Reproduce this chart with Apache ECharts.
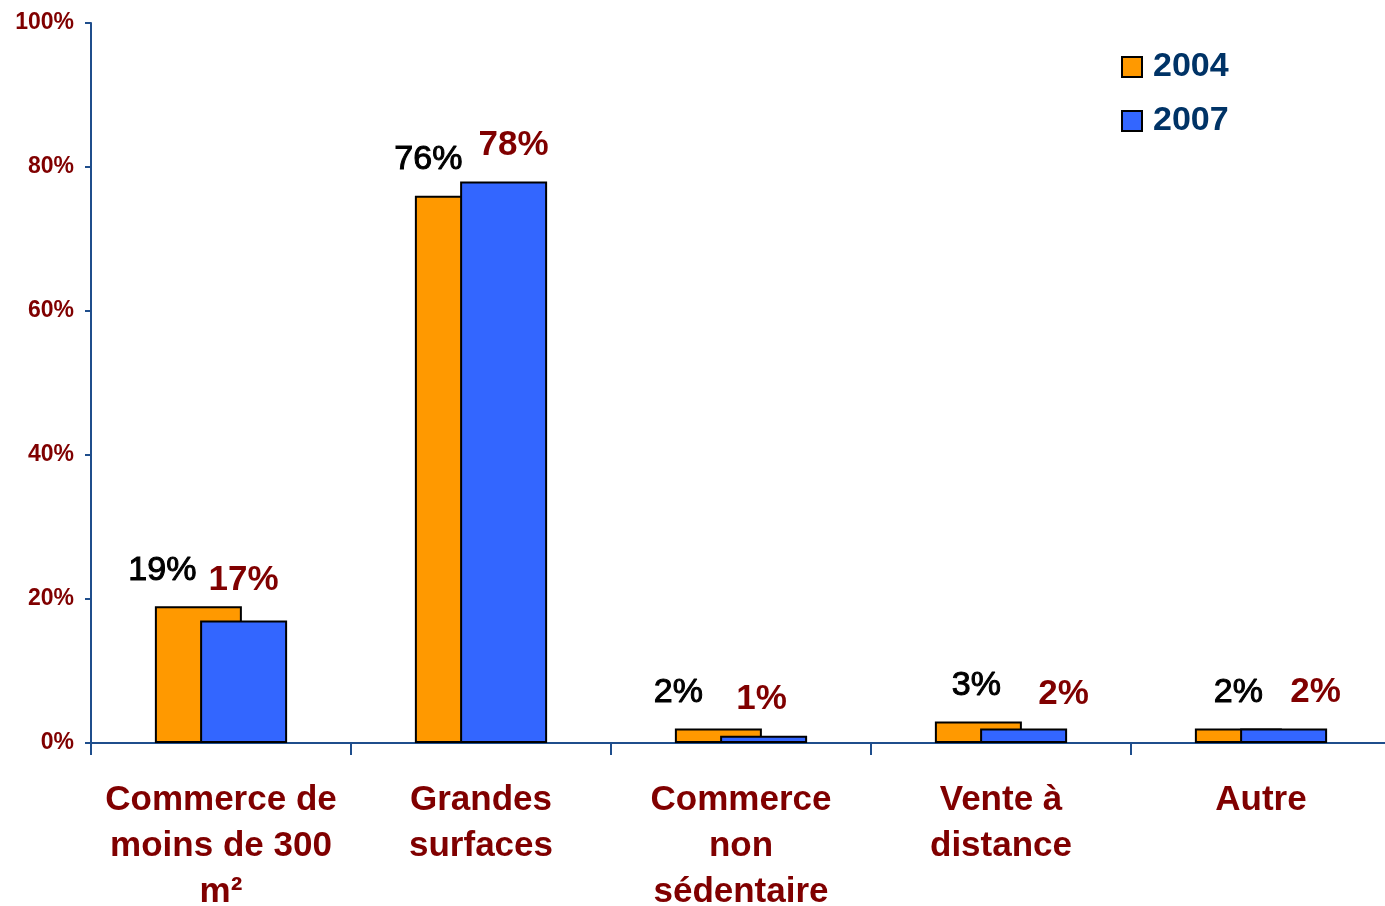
<!DOCTYPE html>
<html>
<head>
<meta charset="utf-8">
<script src="https://cdn.jsdelivr.net/npm/echarts@6/dist/echarts.min.js"></script>
<style>html,body{margin:0;padding:0;background:#fff}#c{width:1385px;height:906px}</style>
</head>
<body>
<div id="c"></div>
<script>
const categories = ['Commerce de\nmoins de 300\nm²', 'Grandes\nsurfaces', 'Commerce\nnon\nsédentaire', 'Vente à\ndistance', 'Autre'];
const seriesNames = ['2004', '2007'];
const values2004 = [19, 76, 2, 3, 2];
const values2007 = [17, 78, 1, 2, 2];
const yTicks = [0, 20, 40, 60, 80, 100];

// label placement tweaks (styling only)
const offs2004 = [[-36, 0], [-30, 0], [-40, 0], [-2, 0], [0, 0]];
const offs2007 = [[0, -4], [10, 0], [-2, 0], [40, 2], [32, 0]];

const chart = echarts.init(document.getElementById('c'));
const axisColor = '#1F4E8C';
const darkRed = '#800000';

function mkData(vals, offs) {
  return vals.map((v, i) => ({ value: v, label: { offset: offs[i] } }));
}

chart.setOption({
  animation: false,
  grid: { left: 91, top: 23, width: 1300, height: 720, containLabel: false, outerBoundsMode: 'none' },
  legend: {
    orient: 'vertical',
    left: 1121,
    top: 50,
    padding: 0,
    itemWidth: 20,
    itemHeight: 20,
    itemGap: 20,
    icon: 'rect',
    data: seriesNames,
    textStyle: { color: '#003366', fontSize: 34, fontWeight: 'bold', fontFamily: 'Liberation Sans, Arial', lineHeight: 34, padding: [0, 0, 0, 6] }
  },
  xAxis: {
    type: 'category',
    data: categories,
    axisLine: { lineStyle: { color: axisColor, width: 2 } },
    axisTick: { show: true, length: 12, lineStyle: { color: axisColor, width: 2 } },
    axisLabel: {
      color: darkRed, fontSize: 35, fontWeight: 'bold', fontFamily: 'Liberation Sans, Arial',
      lineHeight: 46, margin: 34, interval: 0
    }
  },
  yAxis: {
    type: 'value',
    min: yTicks[0], max: yTicks[yTicks.length - 1], interval: 20,
    splitLine: { show: false },
    axisLine: { show: true, lineStyle: { color: axisColor, width: 2 } },
    axisTick: { show: true, length: 6, lineStyle: { color: axisColor, width: 2 } },
    axisLabel: {
      formatter: '{value}%', color: darkRed, fontSize: 23, fontWeight: 'bold',
      fontFamily: 'Liberation Sans, Arial', margin: 17
    }
  },
  series: [
    {
      name: seriesNames[0], type: 'bar', barWidth: 87, barGap: '-48%',
      data: mkData(values2004, offs2004),
      itemStyle: { color: '#FF9900', borderColor: '#000', borderWidth: 2 },
      label: { show: true, position: 'top', distance: 19, formatter: '{c}%', color: '#000', fontSize: 34, fontFamily: 'Liberation Sans, Arial', textBorderColor: '#000', textBorderWidth: 1 },
      z: 2
    },
    {
      name: seriesNames[1], type: 'bar', barWidth: 87, barGap: '-48%',
      data: mkData(values2007, offs2007),
      itemStyle: { color: '#3366FF', borderColor: '#000', borderWidth: 2 },
      label: { show: true, position: 'top', distance: 19, formatter: '{c}%', color: darkRed, fontSize: 35, fontWeight: 'bold', fontFamily: 'Liberation Sans, Arial' },
      z: 3
    }
  ]
});
</script>
</body>
</html>
